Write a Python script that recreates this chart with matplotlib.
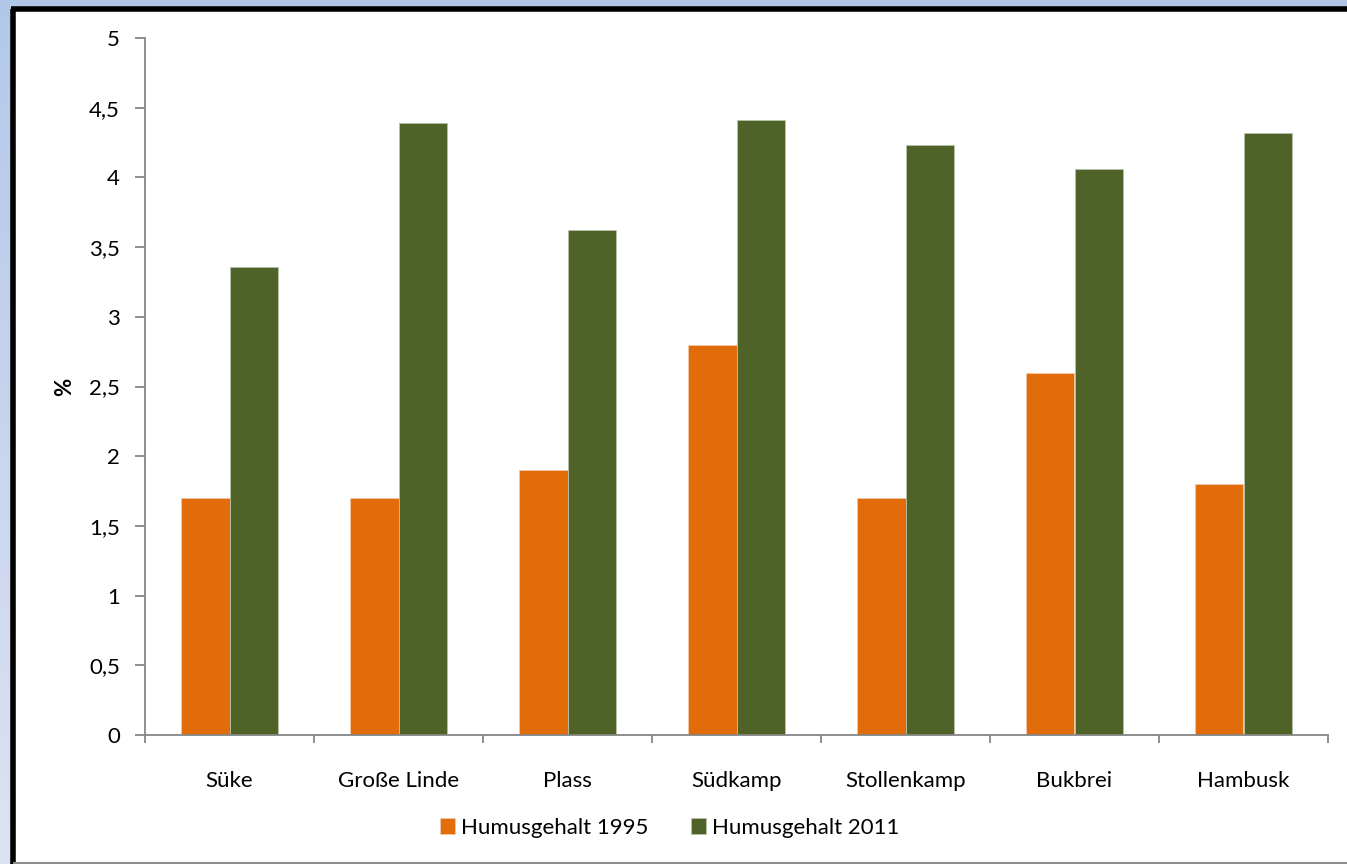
import numpy as np
import matplotlib.pyplot as plt
from matplotlib.patches import Rectangle
from matplotlib.lines import Line2D

plt.rcParams['font.family'] = ['Lato', 'DejaVu Sans']

# --- Data ---
sites = ['Süke', 'Große Linde', 'Plass', 'Südkamp', 'Stollenkamp', 'Bukbrei', 'Hambusk']
humus_1995 = [1.7, 1.7, 1.9, 2.8, 1.7, 2.6, 1.8]
humus_2011 = [3.36, 4.39, 3.62, 4.41, 4.23, 4.06, 4.32]
y_ticks = [0, 0.5, 1, 1.5, 2, 2.5, 3, 3.5, 4, 4.5, 5]
y_labels = [f'{t:g}'.replace('.', ',') for t in y_ticks]

W, H = 1347, 864
fig = plt.figure(figsize=(W / 100, H / 100), dpi=100)
fig.patch.set_facecolor('#c3d1ec')

# --- background: bluish gradient strips, white panel, frame lines ---
x0 = 12.5 / W
y1 = (H - 8.5) / H
top = np.array([0.70, 0.78, 0.91])
bot = np.array([0.86, 0.89, 0.95])
n = 40
for i in range(n):
    c = top + (bot - top) * (i + 0.5) / n
    fig.add_artist(Rectangle((0, 1 - (i + 1) / n), 1, 1 / n + 0.001,
                             transform=fig.transFigure, facecolor=c,
                             edgecolor='none', zorder=-6))
fig.add_artist(Rectangle((x0, 0), 1.2 - x0, y1, transform=fig.transFigure,
                         facecolor='white', edgecolor='none', zorder=-5))
fig.add_artist(Line2D([x0, x0], [0, y1], transform=fig.transFigure,
                      color='black', lw=4, zorder=-4, solid_capstyle='butt'))
fig.add_artist(Line2D([x0 - 2 / W, 1.1], [y1, y1], transform=fig.transFigure,
                      color='black', lw=4, zorder=-4, solid_capstyle='butt'))
fig.add_artist(Line2D([x0, 1.1], [1.5 / H, 1.5 / H], transform=fig.transFigure,
                      color='#8c8c8c', lw=1.5, zorder=-4, solid_capstyle='butt'))

# --- bar chart ---
ax = fig.add_axes([145 / W, (H - 735) / H, (1328 - 145) / W, (735 - 38) / H])
ax.patch.set_alpha(0)
x = np.arange(len(sites))
bw = 0.287
ax.bar(x - bw / 2, humus_1995, bw, color='#e36c0a', edgecolor='#f2c9a8',
       linewidth=0.6, label='Humusgehalt 1995')
ax.bar(x + bw / 2, humus_2011, bw, color='#4f6228', edgecolor='#b9c2a8',
       linewidth=0.6, label='Humusgehalt 2011')

fs = 16
ax.set_xlim(-0.5, len(sites) - 0.5)
ax.set_ylim(0, 5)
ax.set_yticks(y_ticks)
ax.set_yticklabels(y_labels)
ax.set_xticks(x)
ax.set_xticklabels(sites)
ax.set_xticks(np.arange(len(sites) + 1) - 0.5, minor=True)
ax.tick_params(axis='x', which='major', length=0, pad=26, labelsize=fs)
ax.tick_params(axis='x', which='minor', length=6, color='#868686', width=1.3)
ax.tick_params(axis='y', length=7, color='#868686', width=1.3, pad=11, labelsize=fs)
for s in ['top', 'right']:
    ax.spines[s].set_visible(False)
for s in ['left', 'bottom']:
    ax.spines[s].set_color('#868686')
    ax.spines[s].set_linewidth(1.3)
ax.set_ylabel('%', fontsize=fs, fontweight='bold', labelpad=10)

fig.legend(loc='center', bbox_to_anchor=(0.497, (H - 828) / H), ncol=2,
           frameon=False, fontsize=fs, handlelength=0.7, handleheight=0.7,
           handletextpad=0.25, columnspacing=1.9)

fig.savefig('out.png', dpi=100, facecolor=fig.get_facecolor())
